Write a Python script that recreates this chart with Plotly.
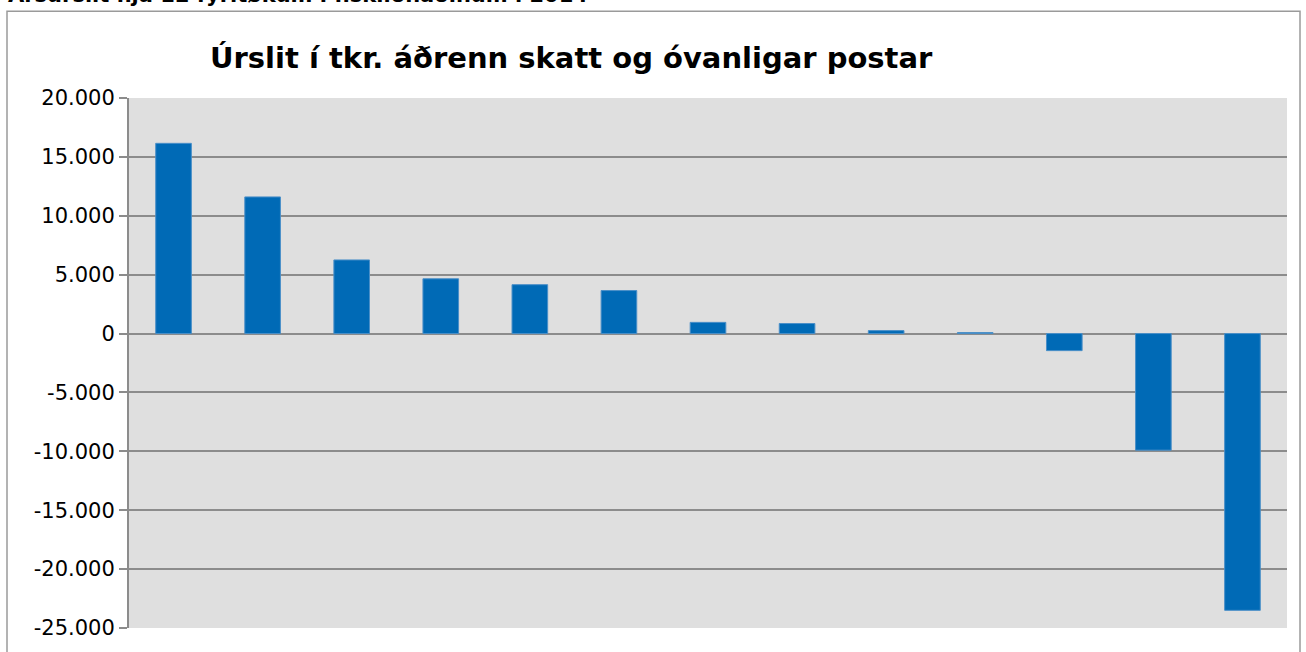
import plotly.graph_objects as go

companies = ["Fyritøka 1", "Fyritøka 2", "Fyritøka 3", "Fyritøka 4", "Fyritøka 5", "Fyritøka 6",
             "Fyritøka 7", "Fyritøka 8", "Fyritøka 9", "Fyritøka 10", "Fyritøka 11", "Fyritøka 12",
             "Fyritøka 13"]
results = [16150, 11600, 6250, 4650, 4150, 3650, 950, 850, 250, 80, -1450, -9900, -23500]

tick_vals = [20000, 15000, 10000, 5000, 0, -5000, -10000, -15000, -20000, -25000]
tick_text = ["20.000", "15.000", "10.000", "5.000", "0", "-5.000", "-10.000", "-15.000", "-20.000", "-25.000"]

W, H = 1306, 652
# on-screen plot box: x 129..1287, y 98..630
SL, SR, ST, SB = 129, 1287, 98, 630
L, T, R, B = SL, ST, W - SR, H - SB
pw, ph = SR - SL, SB - ST

def px_x(p):
    return (p - SL) / pw

def px_y(p):
    return 1 - (p - ST) / ph

fig = go.Figure(go.Bar(
    x=companies, y=results,
    marker=dict(color="#006AB6", line=dict(color="#4A8FC8", width=1)),
    width=0.4,
))

fig.update_layout(
    width=W, height=H,
    margin=dict(l=L, r=R, t=T, b=B),
    paper_bgcolor="white",
    plot_bgcolor="#DFDFDF",
    showlegend=False,
    font=dict(family="DejaVu Sans", color="black"),
    xaxis=dict(showticklabels=False, showgrid=False, zeroline=False, showline=False,
               ticks="", range=[-0.5, 12.5]),
    yaxis=dict(range=[-25000, 20000], tickvals=tick_vals, ticktext=tick_text,
               showgrid=True, gridcolor="#8C8C8C", gridwidth=2,
               zeroline=True, zerolinecolor="#8C8C8C", zerolinewidth=2,
               showline=True, linecolor="#8C8C8C", linewidth=2,
               ticks="outside", ticklen=8, tickcolor="#8C8C8C", tickwidth=2,
               tickfont=dict(size=21, family="DejaVu Sans", color="black")),
    shapes=[dict(type="rect", xref="paper", yref="paper",
                 x0=px_x(7), x1=px_x(1300), y0=px_y(700), y1=px_y(11),
                 line=dict(color="#9A9A9A", width=1.5), fillcolor="rgba(0,0,0,0)", layer="below")],
    annotations=[
        dict(text="<b>Úrslit í tkr. áðrenn skatt og óvanligar postar</b>",
             xref="paper", yref="paper", x=px_x(208), y=px_y(58),
             xanchor="left", yanchor="middle", showarrow=False,
             font=dict(size=29, family="DejaVu Sans", color="black")),
        dict(text="<b>Ársúrslit hjá 12 fyritøkum í fiskiiðnaðinum í 2014</b>",
             xref="paper", yref="paper", x=px_x(6), y=px_y(-6),
             xanchor="left", yanchor="middle", showarrow=False,
             font=dict(size=21, family="DejaVu Sans", color="black")),
    ],
)

fig.write_html("out.html", config={"displayModeBar": False},
               post_script="document.body.style.margin='0';document.body.style.padding='0';")
